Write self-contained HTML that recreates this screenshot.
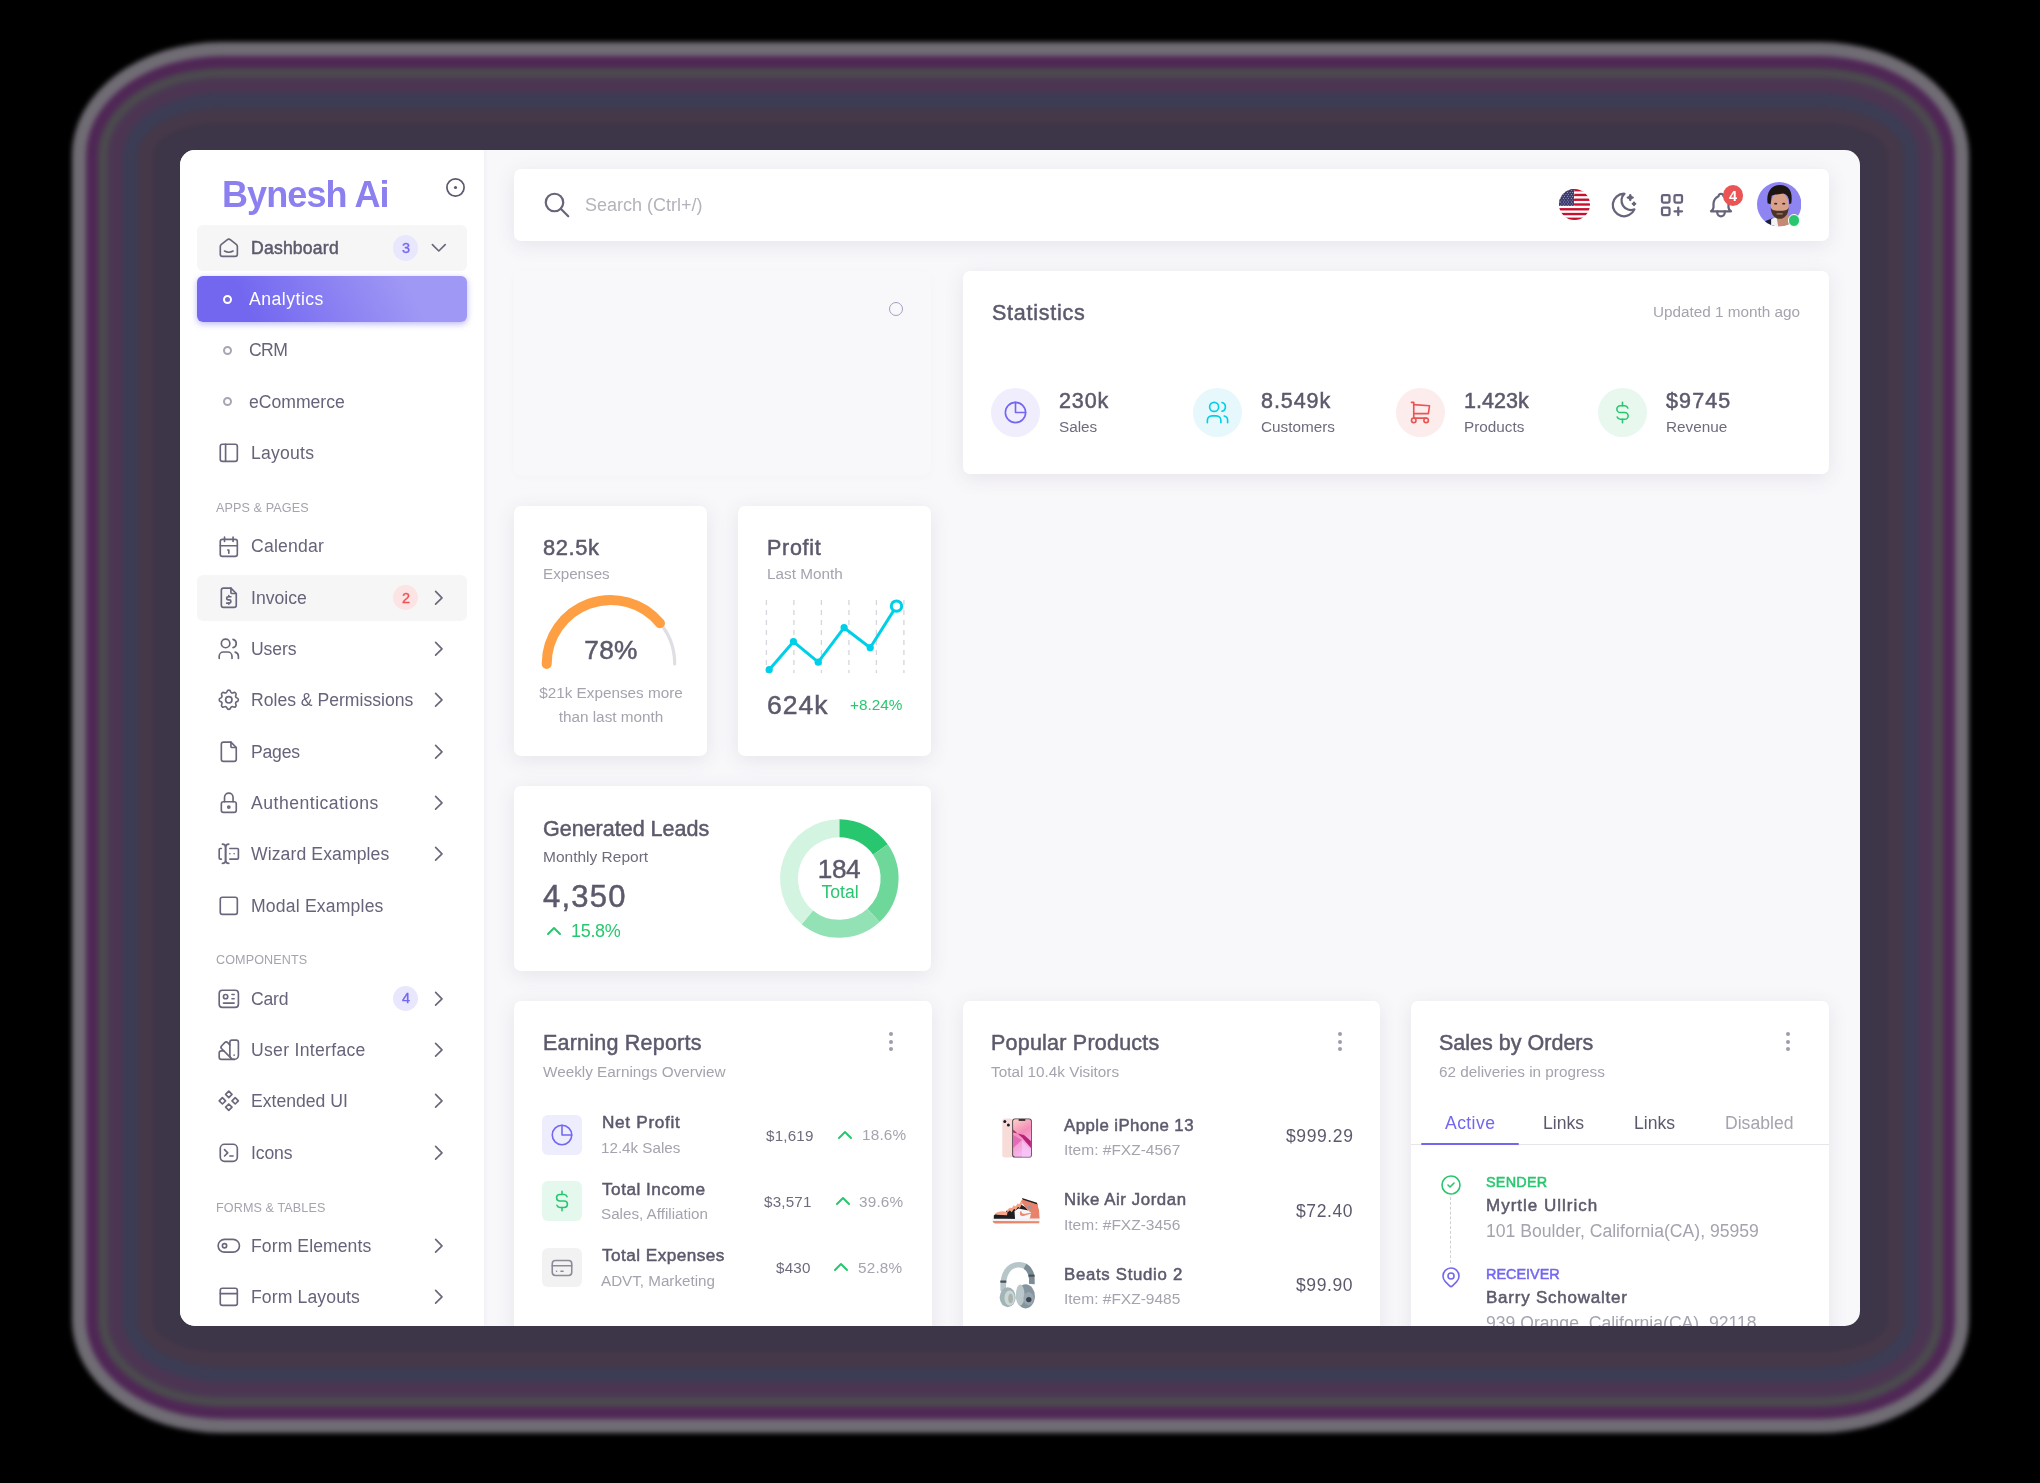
<!DOCTYPE html>
<html><head><meta charset="utf-8">
<style>
*{box-sizing:border-box;margin:0;padding:0}
html,body{width:2040px;height:1483px;overflow:hidden;background:#000;font-family:"Liberation Sans",sans-serif;color:#5d596c}
.abs{position:absolute}
.t{position:absolute;white-space:nowrap;line-height:1;will-change:transform}
#win{position:absolute;left:180px;top:150px;width:1680px;height:1176px;border-radius:15px;overflow:hidden;background:#f8f7fa}
#side{position:absolute;left:0;top:0;width:304px;height:1176px;background:#fff;box-shadow:0 0 5px rgba(75,70,92,.08)}
</style></head>
<body>
<div id="glowwrap" style="position:absolute;left:0;top:0;width:2040px;height:1483px;filter:blur(2.5px)">
<div style="position:absolute;left:72px;top:42px;width:1897px;height:1391px;border-radius:150px / 113px;background:#706c74"></div>
<div style="position:absolute;left:86px;top:56px;width:1869px;height:1363px;border-radius:136px / 99px;background:#4f2755"></div>
<div style="position:absolute;left:98px;top:68px;width:1845px;height:1339px;border-radius:124px / 87px;background:#4b494e"></div>
<div style="position:absolute;left:108px;top:78px;width:1825px;height:1319px;border-radius:114px / 77px;background:#4b3553"></div>
<div style="position:absolute;left:123px;top:93px;width:1795px;height:1289px;border-radius:99px / 62px;background:#3c3c54"></div>
<div style="position:absolute;left:138px;top:108px;width:1765px;height:1259px;border-radius:84px / 47px;background:#453849"></div>
<div style="position:absolute;left:153px;top:123px;width:1735px;height:1229px;border-radius:69px / 32px;background:#3d3548"></div>
</div>
<div id="win">
<div id="side"></div>
<div class="t" style="top:27.13px;font-size:36px;color:#8c80f0;font-weight:700;letter-spacing:-0.9px;left:42.20px;">Bynesh Ai</div>
<svg class="abs" style="left:265.00px;top:27.00px;width:21.00px;height:21.00px;" viewBox="0 0 21 21" fill="none" stroke="#5d596c" stroke-width="1.7" stroke-linecap="round" stroke-linejoin="round"><circle cx="10.5" cy="10.5" r="8.6"/><circle cx="10.5" cy="10.5" r="1.6" fill="#5d596c" stroke="none"/></svg>
<div class="abs" style="left:17.00px;top:75.00px;width:270.40px;height:46.20px;background:#f6f6f7;border-radius:6px;"></div>
<svg class="abs" style="left:35.70px;top:85.20px;width:25.60px;height:25.60px;" viewBox="0 0 24 24" fill="none" stroke="#6a667b" stroke-width="1.55" stroke-linecap="round" stroke-linejoin="round"><path d="M19 8.71l-5.333 -4.148a2.666 2.666 0 0 0 -3.274 0l-5.334 4.148a2.665 2.665 0 0 0 -1.029 2.105v7.2a2 2 0 0 0 2 2h12a2 2 0 0 0 2 -2v-7.2c0 -.823 -.38 -1.6 -1.03 -2.105"/><path d="M16 15c-2.21 1.333 -5.792 1.333 -8 0"/></svg>
<div class="t" style="top:90.10px;font-size:17.6px;color:#5d596c;font-weight:400;letter-spacing:0.2px;-webkit-text-stroke:0.5px #5d596c;left:71.20px;">Dashboard</div>
<div class="abs" style="left:212.80px;top:85.30px;width:25.40px;height:25.40px;background:#e9e7fd;border-radius:50%;"></div>
<div class="t" style="top:90.93px;font-size:14.5px;color:#7367f0;font-weight:400;-webkit-text-stroke:0.35px #7367f0;left:-74.40px;width:600px;text-align:center;">3</div>
<svg class="abs" style="left:245.70px;top:85.20px;width:25.60px;height:25.60px;" viewBox="0 0 24 24" fill="none" stroke="#6a667b" stroke-width="1.55" stroke-linecap="round" stroke-linejoin="round"><path d="M6 9l6 6l6 -6"/></svg>
<div class="abs" style="left:17.00px;top:126.00px;width:270.40px;height:46.00px;background:linear-gradient(62deg,#7367f0 20%,rgba(115,103,240,.68) 78%);border-radius:6px;box-shadow:0 2px 6px 0 rgba(115,103,240,.48);"></div>
<div class="abs" style="left:42.60px;top:144.50px;width:9.20px;height:9.20px;border:2px solid #fff;border-radius:50%;"></div>
<div class="t" style="top:141.10px;font-size:17.6px;color:#fff;font-weight:400;letter-spacing:0.5px;left:69.00px;">Analytics</div>
<div class="abs" style="left:42.60px;top:195.70px;width:9.20px;height:9.20px;border:2px solid #a8a6b2;border-radius:50%;"></div>
<div class="t" style="top:192.20px;font-size:17.6px;color:#67637a;font-weight:400;letter-spacing:-0.6px;left:69.00px;">CRM</div>
<div class="abs" style="left:42.60px;top:247.00px;width:9.20px;height:9.20px;border:2px solid #a8a6b2;border-radius:50%;"></div>
<div class="t" style="top:243.50px;font-size:17.6px;color:#67637a;font-weight:400;left:69.00px;">eCommerce</div>
<svg class="abs" style="left:35.70px;top:290.10px;width:25.60px;height:25.60px;" viewBox="0 0 24 24" fill="none" stroke="#6a667b" stroke-width="1.55" stroke-linecap="round" stroke-linejoin="round"><rect x="4" y="4" width="16" height="16" rx="2"/><path d="M9 4v16"/></svg>
<div class="t" style="top:295.00px;font-size:17.6px;color:#67637a;font-weight:400;letter-spacing:0.22px;left:71.20px;">Layouts</div>
<div class="t" style="top:352.13px;font-size:12.6px;color:#a5a3ae;font-weight:400;letter-spacing:0.1px;left:36.30px;">APPS &amp; PAGES</div>
<svg class="abs" style="left:35.70px;top:383.50px;width:25.60px;height:25.60px;" viewBox="0 0 24 24" fill="none" stroke="#6a667b" stroke-width="1.55" stroke-linecap="round" stroke-linejoin="round"><rect x="4" y="5" width="16" height="16" rx="2"/><path d="M16 3v4M8 3v4M4 11h16M11 15h1M12 15v3"/></svg>
<div class="t" style="top:388.40px;font-size:17.6px;color:#67637a;font-weight:400;letter-spacing:0.2px;left:71.20px;">Calendar</div>
<div class="abs" style="left:17.00px;top:424.60px;width:270.40px;height:46.20px;background:#f6f6f7;border-radius:6px;"></div>
<svg class="abs" style="left:35.70px;top:434.80px;width:25.60px;height:25.60px;" viewBox="0 0 24 24" fill="none" stroke="#6a667b" stroke-width="1.55" stroke-linecap="round" stroke-linejoin="round"><path d="M14 3v4a1 1 0 0 0 1 1h4"/><path d="M17 21h-10a2 2 0 0 1 -2 -2v-14a2 2 0 0 1 2 -2h7l5 5v11a2 2 0 0 1 -2 2z"/><path d="M14 11h-2.5a1.5 1.5 0 0 0 0 3h1a1.5 1.5 0 0 1 0 3h-2.5"/><path d="M12 17v1m0 -8v1"/></svg>
<div class="t" style="top:439.70px;font-size:17.6px;color:#67637a;font-weight:400;letter-spacing:0px;left:71.20px;">Invoice</div>
<div class="abs" style="left:212.80px;top:434.90px;width:25.40px;height:25.40px;background:#fce4e4;border-radius:50%;"></div>
<div class="t" style="top:440.53px;font-size:14.5px;color:#ea5455;font-weight:400;-webkit-text-stroke:0.35px #ea5455;left:-74.40px;width:600px;text-align:center;">2</div>
<svg class="abs" style="left:245.70px;top:434.80px;width:25.60px;height:25.60px;" viewBox="0 0 24 24" fill="none" stroke="#6a667b" stroke-width="1.55" stroke-linecap="round" stroke-linejoin="round"><path d="M9 6l6 6l-6 6"/></svg>
<svg class="abs" style="left:35.70px;top:486.10px;width:25.60px;height:25.60px;" viewBox="0 0 24 24" fill="none" stroke="#6a667b" stroke-width="1.55" stroke-linecap="round" stroke-linejoin="round"><circle cx="9" cy="7" r="4"/><path d="M3 21v-2a4 4 0 0 1 4 -4h4a4 4 0 0 1 4 4v2"/><path d="M16 3.13a4 4 0 0 1 0 7.75"/><path d="M21 21v-2a4 4 0 0 0 -3 -3.85"/></svg>
<div class="t" style="top:491.00px;font-size:17.6px;color:#67637a;font-weight:400;letter-spacing:-0.13px;left:71.20px;">Users</div>
<svg class="abs" style="left:245.70px;top:486.10px;width:25.60px;height:25.60px;" viewBox="0 0 24 24" fill="none" stroke="#6a667b" stroke-width="1.55" stroke-linecap="round" stroke-linejoin="round"><path d="M9 6l6 6l-6 6"/></svg>
<svg class="abs" style="left:35.70px;top:537.40px;width:25.60px;height:25.60px;" viewBox="0 0 24 24" fill="none" stroke="#6a667b" stroke-width="1.55" stroke-linecap="round" stroke-linejoin="round"><path d="M10.325 4.317c.426 -1.756 2.924 -1.756 3.35 0a1.724 1.724 0 0 0 2.573 1.066c1.543 -.94 3.31 .826 2.37 2.37a1.724 1.724 0 0 0 1.065 2.572c1.756 .426 1.756 2.924 0 3.35a1.724 1.724 0 0 0 -1.066 2.573c.94 1.543 -.826 3.31 -2.37 2.37a1.724 1.724 0 0 0 -2.572 1.065c-.426 1.756 -2.924 1.756 -3.35 0a1.724 1.724 0 0 0 -2.573 -1.066c-1.543 .94 -3.31 -.826 -2.37 -2.37a1.724 1.724 0 0 0 -1.065 -2.572c-1.756 -.426 -1.756 -2.924 0 -3.35a1.724 1.724 0 0 0 1.066 -2.573c-.94 -1.543 .826 -3.31 2.37 -2.37c1 .608 2.296 .07 2.572 -1.065z"/><circle cx="12" cy="12" r="3"/></svg>
<div class="t" style="top:542.30px;font-size:17.6px;color:#67637a;font-weight:400;letter-spacing:0px;left:71.20px;">Roles &amp; Permissions</div>
<svg class="abs" style="left:245.70px;top:537.40px;width:25.60px;height:25.60px;" viewBox="0 0 24 24" fill="none" stroke="#6a667b" stroke-width="1.55" stroke-linecap="round" stroke-linejoin="round"><path d="M9 6l6 6l-6 6"/></svg>
<svg class="abs" style="left:35.70px;top:588.70px;width:25.60px;height:25.60px;" viewBox="0 0 24 24" fill="none" stroke="#6a667b" stroke-width="1.55" stroke-linecap="round" stroke-linejoin="round"><path d="M14 3v4a1 1 0 0 0 1 1h4"/><path d="M17 21h-10a2 2 0 0 1 -2 -2v-14a2 2 0 0 1 2 -2h7l5 5v11a2 2 0 0 1 -2 2z"/></svg>
<div class="t" style="top:593.60px;font-size:17.6px;color:#67637a;font-weight:400;letter-spacing:-0.2px;left:71.20px;">Pages</div>
<svg class="abs" style="left:245.70px;top:588.70px;width:25.60px;height:25.60px;" viewBox="0 0 24 24" fill="none" stroke="#6a667b" stroke-width="1.55" stroke-linecap="round" stroke-linejoin="round"><path d="M9 6l6 6l-6 6"/></svg>
<svg class="abs" style="left:35.70px;top:640.00px;width:25.60px;height:25.60px;" viewBox="0 0 24 24" fill="none" stroke="#6a667b" stroke-width="1.55" stroke-linecap="round" stroke-linejoin="round"><rect x="5" y="11" width="14" height="10" rx="2"/><circle cx="12" cy="16" r="1"/><path d="M8 11v-4a4 4 0 0 1 8 0v4"/></svg>
<div class="t" style="top:644.90px;font-size:17.6px;color:#67637a;font-weight:400;letter-spacing:0.5px;left:71.20px;">Authentications</div>
<svg class="abs" style="left:245.70px;top:640.00px;width:25.60px;height:25.60px;" viewBox="0 0 24 24" fill="none" stroke="#6a667b" stroke-width="1.55" stroke-linecap="round" stroke-linejoin="round"><path d="M9 6l6 6l-6 6"/></svg>
<svg class="abs" style="left:35.70px;top:691.30px;width:25.60px;height:25.60px;" viewBox="0 0 24 24" fill="none" stroke="#6a667b" stroke-width="1.55" stroke-linecap="round" stroke-linejoin="round"><path d="M12 3a3 3 0 0 0 -3 3v12a3 3 0 0 0 3 3"/><path d="M6 3a3 3 0 0 1 3 3v12a3 3 0 0 1 -3 3"/><path d="M13 7h7a1 1 0 0 1 1 1v8a1 1 0 0 1 -1 1h-7"/><path d="M5 7h-1a1 1 0 0 0 -1 1v8a1 1 0 0 0 1 1h1"/><path d="M17 12h.01M13 12h.01"/></svg>
<div class="t" style="top:696.20px;font-size:17.6px;color:#67637a;font-weight:400;letter-spacing:0.1px;left:71.20px;">Wizard Examples</div>
<svg class="abs" style="left:245.70px;top:691.30px;width:25.60px;height:25.60px;" viewBox="0 0 24 24" fill="none" stroke="#6a667b" stroke-width="1.55" stroke-linecap="round" stroke-linejoin="round"><path d="M9 6l6 6l-6 6"/></svg>
<svg class="abs" style="left:35.70px;top:742.60px;width:25.60px;height:25.60px;" viewBox="0 0 24 24" fill="none" stroke="#6a667b" stroke-width="1.55" stroke-linecap="round" stroke-linejoin="round"><rect x="4" y="4" width="16" height="16" rx="2"/></svg>
<div class="t" style="top:747.50px;font-size:17.6px;color:#67637a;font-weight:400;letter-spacing:0.18px;left:71.20px;">Modal Examples</div>
<div class="t" style="top:804.33px;font-size:12.6px;color:#a5a3ae;font-weight:400;letter-spacing:0.1px;left:36.30px;">COMPONENTS</div>
<svg class="abs" style="left:35.70px;top:835.70px;width:25.60px;height:25.60px;" viewBox="0 0 24 24" fill="none" stroke="#6a667b" stroke-width="1.55" stroke-linecap="round" stroke-linejoin="round"><rect x="3" y="4" width="18" height="16" rx="3"/><circle cx="9" cy="10" r="2"/><path d="M15 8h2M15 12h2M7 16h10"/></svg>
<div class="t" style="top:840.60px;font-size:17.6px;color:#67637a;font-weight:400;letter-spacing:-0.2px;left:71.20px;">Card</div>
<div class="abs" style="left:212.80px;top:835.80px;width:25.40px;height:25.40px;background:#e9e7fd;border-radius:50%;"></div>
<div class="t" style="top:841.43px;font-size:14.5px;color:#7367f0;font-weight:400;-webkit-text-stroke:0.35px #7367f0;left:-74.40px;width:600px;text-align:center;">4</div>
<svg class="abs" style="left:245.70px;top:835.70px;width:25.60px;height:25.60px;" viewBox="0 0 24 24" fill="none" stroke="#6a667b" stroke-width="1.55" stroke-linecap="round" stroke-linejoin="round"><path d="M9 6l6 6l-6 6"/></svg>
<svg class="abs" style="left:35.70px;top:887.00px;width:25.60px;height:25.60px;" viewBox="0 0 24 24" fill="none" stroke="#6a667b" stroke-width="1.55" stroke-linecap="round" stroke-linejoin="round"><path d="M19 3h-4a2 2 0 0 0 -2 2v12a4 4 0 0 0 8 0v-12a2 2 0 0 0 -2 -2"/><path d="M13 7.35l-2 -2a2 2 0 0 0 -2.828 0l-2.828 2.828a2 2 0 0 0 0 2.828l9 9"/><path d="M7.3 13h-2.3a2 2 0 0 0 -2 2v4a2 2 0 0 0 2 2h12"/><path d="M17 17v.01"/></svg>
<div class="t" style="top:891.90px;font-size:17.6px;color:#67637a;font-weight:400;letter-spacing:0.3px;left:71.20px;">User Interface</div>
<svg class="abs" style="left:245.70px;top:887.00px;width:25.60px;height:25.60px;" viewBox="0 0 24 24" fill="none" stroke="#6a667b" stroke-width="1.55" stroke-linecap="round" stroke-linejoin="round"><path d="M9 6l6 6l-6 6"/></svg>
<svg class="abs" style="left:35.70px;top:938.30px;width:25.60px;height:25.60px;" viewBox="0 0 24 24" fill="none" stroke="#6a667b" stroke-width="1.55" stroke-linecap="round" stroke-linejoin="round"><path d="M3 12l3 3l3 -3l-3 -3z"/><path d="M15 12l3 3l3 -3l-3 -3z"/><path d="M9 6l3 3l3 -3l-3 -3z"/><path d="M9 18l3 3l3 -3l-3 -3z"/></svg>
<div class="t" style="top:943.20px;font-size:17.6px;color:#67637a;font-weight:400;letter-spacing:0px;left:71.20px;">Extended UI</div>
<svg class="abs" style="left:245.70px;top:938.30px;width:25.60px;height:25.60px;" viewBox="0 0 24 24" fill="none" stroke="#6a667b" stroke-width="1.55" stroke-linecap="round" stroke-linejoin="round"><path d="M9 6l6 6l-6 6"/></svg>
<svg class="abs" style="left:35.70px;top:989.60px;width:25.60px;height:25.60px;" viewBox="0 0 24 24" fill="none" stroke="#6a667b" stroke-width="1.55" stroke-linecap="round" stroke-linejoin="round"><path d="M8 9l3 3l-3 3"/><path d="M13 15h3"/><rect x="4" y="4" width="16" height="16" rx="4"/></svg>
<div class="t" style="top:994.50px;font-size:17.6px;color:#67637a;font-weight:400;letter-spacing:-0.13px;left:71.20px;">Icons</div>
<svg class="abs" style="left:245.70px;top:989.60px;width:25.60px;height:25.60px;" viewBox="0 0 24 24" fill="none" stroke="#6a667b" stroke-width="1.55" stroke-linecap="round" stroke-linejoin="round"><path d="M9 6l6 6l-6 6"/></svg>
<div class="t" style="top:1051.73px;font-size:12.6px;color:#a5a3ae;font-weight:400;letter-spacing:0.1px;left:36.30px;">FORMS &amp; TABLES</div>
<svg class="abs" style="left:35.70px;top:1082.90px;width:25.60px;height:25.60px;" viewBox="0 0 24 24" fill="none" stroke="#6a667b" stroke-width="1.55" stroke-linecap="round" stroke-linejoin="round"><circle cx="8" cy="12" r="2"/><rect x="2" y="6" width="20" height="12" rx="6"/></svg>
<div class="t" style="top:1087.80px;font-size:17.6px;color:#67637a;font-weight:400;letter-spacing:0.08px;left:71.20px;">Form Elements</div>
<svg class="abs" style="left:245.70px;top:1082.90px;width:25.60px;height:25.60px;" viewBox="0 0 24 24" fill="none" stroke="#6a667b" stroke-width="1.55" stroke-linecap="round" stroke-linejoin="round"><path d="M9 6l6 6l-6 6"/></svg>
<svg class="abs" style="left:35.70px;top:1134.20px;width:25.60px;height:25.60px;" viewBox="0 0 24 24" fill="none" stroke="#6a667b" stroke-width="1.55" stroke-linecap="round" stroke-linejoin="round"><rect x="4" y="4" width="16" height="16" rx="2"/><path d="M4 9h16"/></svg>
<div class="t" style="top:1139.10px;font-size:17.6px;color:#67637a;font-weight:400;letter-spacing:0.12px;left:71.20px;">Form Layouts</div>
<svg class="abs" style="left:245.70px;top:1134.20px;width:25.60px;height:25.60px;" viewBox="0 0 24 24" fill="none" stroke="#6a667b" stroke-width="1.55" stroke-linecap="round" stroke-linejoin="round"><path d="M9 6l6 6l-6 6"/></svg>
<div class="abs" style="left:334.00px;top:19.00px;width:1314.70px;height:71.70px;background:#fff;border-radius:7px;box-shadow:0 4px 20px rgba(75,70,92,.10);"></div>
<svg class="abs" style="left:362.00px;top:39.80px;width:30.00px;height:30.00px;" viewBox="0 0 24 24" fill="none" stroke="#67637a" stroke-width="1.75" stroke-linecap="round" stroke-linejoin="round"><circle cx="10" cy="10" r="7"/><path d="M21 21l-6 -6"/></svg>
<div class="t" style="top:45.96px;font-size:18px;color:#b4b2bb;font-weight:400;left:404.50px;">Search (Ctrl+/)</div>
<svg class="abs" style="left:1378.7px;top:39.099999999999994px;width:31px;height:31px" viewBox="0 0 31 31">
<defs><clipPath id="fc"><circle cx="15.5" cy="15.5" r="15.5"/></clipPath></defs>
<g clip-path="url(#fc)"><rect width="31" height="31" fill="#fff"/>
<rect x="0" y="0.00" width="31" height="2.38" fill="#c8102e"/><rect x="0" y="4.77" width="31" height="2.38" fill="#c8102e"/><rect x="0" y="9.54" width="31" height="2.38" fill="#c8102e"/><rect x="0" y="14.31" width="31" height="2.38" fill="#c8102e"/><rect x="0" y="19.08" width="31" height="2.38" fill="#c8102e"/><rect x="0" y="23.85" width="31" height="2.38" fill="#c8102e"/><rect x="0" y="28.62" width="31" height="2.38" fill="#c8102e"/>
<rect x="0" y="0" width="15" height="16.69" fill="#3c3b6e"/>
<circle cx="1.60" cy="1.60" r=".45" fill="#fff"/><circle cx="4.30" cy="1.60" r=".45" fill="#fff"/><circle cx="7.00" cy="1.60" r=".45" fill="#fff"/><circle cx="9.70" cy="1.60" r=".45" fill="#fff"/><circle cx="12.40" cy="1.60" r=".45" fill="#fff"/><circle cx="15.10" cy="1.60" r=".45" fill="#fff"/><circle cx="2.95" cy="3.50" r=".45" fill="#fff"/><circle cx="5.65" cy="3.50" r=".45" fill="#fff"/><circle cx="8.35" cy="3.50" r=".45" fill="#fff"/><circle cx="11.05" cy="3.50" r=".45" fill="#fff"/><circle cx="13.75" cy="3.50" r=".45" fill="#fff"/><circle cx="1.60" cy="5.40" r=".45" fill="#fff"/><circle cx="4.30" cy="5.40" r=".45" fill="#fff"/><circle cx="7.00" cy="5.40" r=".45" fill="#fff"/><circle cx="9.70" cy="5.40" r=".45" fill="#fff"/><circle cx="12.40" cy="5.40" r=".45" fill="#fff"/><circle cx="15.10" cy="5.40" r=".45" fill="#fff"/><circle cx="2.95" cy="7.30" r=".45" fill="#fff"/><circle cx="5.65" cy="7.30" r=".45" fill="#fff"/><circle cx="8.35" cy="7.30" r=".45" fill="#fff"/><circle cx="11.05" cy="7.30" r=".45" fill="#fff"/><circle cx="13.75" cy="7.30" r=".45" fill="#fff"/><circle cx="1.60" cy="9.20" r=".45" fill="#fff"/><circle cx="4.30" cy="9.20" r=".45" fill="#fff"/><circle cx="7.00" cy="9.20" r=".45" fill="#fff"/><circle cx="9.70" cy="9.20" r=".45" fill="#fff"/><circle cx="12.40" cy="9.20" r=".45" fill="#fff"/><circle cx="15.10" cy="9.20" r=".45" fill="#fff"/><circle cx="2.95" cy="11.10" r=".45" fill="#fff"/><circle cx="5.65" cy="11.10" r=".45" fill="#fff"/><circle cx="8.35" cy="11.10" r=".45" fill="#fff"/><circle cx="11.05" cy="11.10" r=".45" fill="#fff"/><circle cx="13.75" cy="11.10" r=".45" fill="#fff"/><circle cx="1.60" cy="13.00" r=".45" fill="#fff"/><circle cx="4.30" cy="13.00" r=".45" fill="#fff"/><circle cx="7.00" cy="13.00" r=".45" fill="#fff"/><circle cx="9.70" cy="13.00" r=".45" fill="#fff"/><circle cx="12.40" cy="13.00" r=".45" fill="#fff"/><circle cx="15.10" cy="13.00" r=".45" fill="#fff"/><circle cx="2.95" cy="14.90" r=".45" fill="#fff"/><circle cx="5.65" cy="14.90" r=".45" fill="#fff"/><circle cx="8.35" cy="14.90" r=".45" fill="#fff"/><circle cx="11.05" cy="14.90" r=".45" fill="#fff"/><circle cx="13.75" cy="14.90" r=".45" fill="#fff"/><circle cx="1.60" cy="16.80" r=".45" fill="#fff"/><circle cx="4.30" cy="16.80" r=".45" fill="#fff"/><circle cx="7.00" cy="16.80" r=".45" fill="#fff"/><circle cx="9.70" cy="16.80" r=".45" fill="#fff"/><circle cx="12.40" cy="16.80" r=".45" fill="#fff"/><circle cx="15.10" cy="16.80" r=".45" fill="#fff"/>
</g></svg>
<svg class="abs" style="left:1428.50px;top:39.60px;width:30.00px;height:30.00px;" viewBox="0 0 24 24" fill="none" stroke="#67637a" stroke-width="1.8" stroke-linecap="round" stroke-linejoin="round"><path d="M12 3c.132 0 .263 0 .393 0a7.5 7.5 0 0 0 7.92 12.446a9 9 0 1 1 -8.313 -12.454z"/><path d="M17 4a2 2 0 0 0 2 2a2 2 0 0 0 -2 2a2 2 0 0 0 -2 -2a2 2 0 0 0 2 -2"/><path d="M19 11h2m-1 -1v2"/></svg>
<svg class="abs" style="left:1477.30px;top:39.70px;width:30.00px;height:30.00px;" viewBox="0 0 24 24" fill="none" stroke="#67637a" stroke-width="1.8" stroke-linecap="round" stroke-linejoin="round"><rect x="4" y="4" width="6" height="6" rx="1"/><rect x="14" y="4" width="6" height="6" rx="1"/><rect x="4" y="14" width="6" height="6" rx="1"/><path d="M14 17h6m-3 -3v6"/></svg>
<svg class="abs" style="left:1526.00px;top:39.60px;width:30.00px;height:30.00px;" viewBox="0 0 24 24" fill="none" stroke="#67637a" stroke-width="1.8" stroke-linecap="round" stroke-linejoin="round"><path d="M10 5a2 2 0 1 1 4 0a7 7 0 0 1 4 6v3a4 4 0 0 0 2 3h-16a4 4 0 0 0 2 -3v-3a7 7 0 0 1 4 -6"/><path d="M9 17v1a3 3 0 0 0 6 0v-1"/></svg>
<div class="abs" style="left:1542.60px;top:35.20px;width:20.80px;height:20.80px;background:#ea5455;border-radius:50%;"></div>
<div class="t" style="top:38.63px;font-size:14.5px;color:#fff;font-weight:700;left:1253.20px;width:600px;text-align:center;">4</div>
<svg class="abs" style="left:1576.7px;top:32.19999999999999px;width:44.4px;height:44.4px" viewBox="0 0 44 44">
<defs><clipPath id="av"><circle cx="22" cy="22" r="22"/></clipPath></defs>
<g clip-path="url(#av)"><rect width="44" height="44" fill="#8f85f2"/>
<path d="M0 44L8 39L15 36L18 44z" fill="#1b2236"/>
<path d="M14 37L20 34.5L23 44L14 44z" fill="#f4f4f4"/>
<path d="M19 32L31 32L34 44L21 44z" fill="#c48a74"/>
<ellipse cx="22.5" cy="23" rx="9" ry="12.5" fill="#d9a08a"/>
<path d="M10.5 21C9 10 14 3 23 3C31 3 36 9 34 21L32 22C32 15 30 12.5 26 11.5C22 12.5 17 12 14.5 14L13.5 22z" fill="#1c1512"/>
<path d="M13.5 25C14 33 18 36.5 22.5 36.5C27 36.5 31 33 31.5 25C30 28.5 27 28.5 22.5 28.5C18 28.5 15 28.5 13.5 25z" fill="#4a3428"/>
<ellipse cx="18.5" cy="21.5" rx="1.6" ry=".9" fill="#3a2a24"/><ellipse cx="26.5" cy="21.5" rx="1.6" ry=".9" fill="#3a2a24"/>
<path d="M19.5 31.5h6" stroke="#b77a70" stroke-width="1.2"/>
</g></svg>
<div class="abs" style="left:1607.50px;top:64.40px;width:12.40px;height:12.40px;background:#28c76f;border:1.7px solid #fff;border-radius:50%;"></div>
<div class="abs" style="left:334.00px;top:121.00px;width:417.20px;height:204.00px;background:#f8f7fa;border-radius:7px;box-shadow:0 2px 10px rgba(75,70,92,.025);"></div>
<div class="abs" style="left:708.70px;top:151.50px;width:14.60px;height:14.60px;border:1.3px solid #a49fc0;border-radius:50%;"></div>
<div class="abs" style="left:783.20px;top:121.00px;width:865.50px;height:202.50px;background:#fff;border-radius:7px;box-shadow:0 4px 20px rgba(75,70,92,.10);"></div>
<div class="t" style="top:153.30px;font-size:21.5px;color:#5d596c;font-weight:400;letter-spacing:0.75px;-webkit-text-stroke:0.5px #5d596c;left:811.90px;">Statistics</div>
<div class="t" style="top:153.55px;font-size:15.3px;color:#a5a3ae;font-weight:400;right:59.50px;text-align:right;">Updated 1 month ago</div>
<div class="abs" style="left:810.80px;top:237.60px;width:49.20px;height:49.20px;background:#f0eefd;border-radius:50%;"></div>
<svg class="abs" style="left:821.90px;top:248.70px;width:27.00px;height:27.00px;" viewBox="0 0 24 24" fill="none" stroke="#7367f0" stroke-width="1.45" stroke-linecap="round" stroke-linejoin="round"><path d="M12 3v9h9"/><circle cx="12" cy="12" r="9"/></svg>
<div class="t" style="top:240.60px;font-size:21.5px;color:#5d596c;font-weight:400;letter-spacing:0.9px;-webkit-text-stroke:0.5px #5d596c;left:879.00px;">230k</div>
<div class="t" style="top:269.05px;font-size:15.3px;color:#6f6b7d;font-weight:400;left:878.80px;">Sales</div>
<div class="abs" style="left:1013.25px;top:237.60px;width:49.20px;height:49.20px;background:#e6f8fc;border-radius:50%;"></div>
<svg class="abs" style="left:1024.35px;top:248.70px;width:27.00px;height:27.00px;" viewBox="0 0 24 24" fill="none" stroke="#00cfe8" stroke-width="1.45" stroke-linecap="round" stroke-linejoin="round"><circle cx="9" cy="7" r="4"/><path d="M3 21v-2a4 4 0 0 1 4 -4h4a4 4 0 0 1 4 4v2"/><path d="M16 3.13a4 4 0 0 1 0 7.75"/><path d="M21 21v-2a4 4 0 0 0 -3 -3.85"/></svg>
<div class="t" style="top:240.60px;font-size:21.5px;color:#5d596c;font-weight:400;letter-spacing:0.94px;-webkit-text-stroke:0.5px #5d596c;left:1081.45px;">8.549k</div>
<div class="t" style="top:269.05px;font-size:15.3px;color:#6f6b7d;font-weight:400;left:1081.25px;">Customers</div>
<div class="abs" style="left:1215.70px;top:237.60px;width:49.20px;height:49.20px;background:#fdecec;border-radius:50%;"></div>
<svg class="abs" style="left:1226.80px;top:248.70px;width:27.00px;height:27.00px;" viewBox="0 0 24 24" fill="none" stroke="#ea5455" stroke-width="1.45" stroke-linecap="round" stroke-linejoin="round"><circle cx="6" cy="19" r="2"/><circle cx="17" cy="19" r="2"/><path d="M17 17h-11v-14h-2"/><path d="M6 5l14 1l-1 7h-13"/></svg>
<div class="t" style="top:240.60px;font-size:21.5px;color:#5d596c;font-weight:400;letter-spacing:0.06px;-webkit-text-stroke:0.5px #5d596c;left:1283.90px;">1.423k</div>
<div class="t" style="top:269.05px;font-size:15.3px;color:#6f6b7d;font-weight:400;left:1283.70px;">Products</div>
<div class="abs" style="left:1418.15px;top:237.60px;width:49.20px;height:49.20px;background:#e8f8ef;border-radius:50%;"></div>
<svg class="abs" style="left:1429.25px;top:248.70px;width:27.00px;height:27.00px;" viewBox="0 0 24 24" fill="none" stroke="#28c76f" stroke-width="1.45" stroke-linecap="round" stroke-linejoin="round"><path d="M16.7 8a3 3 0 0 0 -2.7 -2h-4a3 3 0 0 0 0 6h4a3 3 0 0 1 0 6h-4a3 3 0 0 1 -2.7 -2"/><path d="M12 3v3m0 12v3"/></svg>
<div class="t" style="top:240.60px;font-size:21.5px;color:#5d596c;font-weight:400;letter-spacing:1.12px;-webkit-text-stroke:0.5px #5d596c;left:1486.35px;">$9745</div>
<div class="t" style="top:269.05px;font-size:15.3px;color:#6f6b7d;font-weight:400;left:1486.15px;">Revenue</div>
<div class="abs" style="left:334.00px;top:355.80px;width:193.30px;height:250.20px;background:#fff;border-radius:7px;box-shadow:0 4px 20px rgba(75,70,92,.10);"></div>
<div class="t" style="top:387.26px;font-size:21.9px;color:#5d596c;font-weight:400;letter-spacing:0.61px;-webkit-text-stroke:0.5px #5d596c;left:362.70px;">82.5k</div>
<div class="t" style="top:416.13px;font-size:15.2px;color:#a5a3ae;font-weight:400;left:362.70px;">Expenses</div>
<svg class="abs" style="left:0;top:0;width:1680px;height:1176px;overflow:visible" viewBox="180 150 1680 1176">
<path d="M546.7 664 A64 64 0 0 1 674.7 664" fill="none" stroke="#dfdee3" stroke-width="3.2" stroke-linecap="round"/>
<path d="M546.7 664 A64 64 0 0 1 660.01 623.20" fill="none" stroke="#ff9f43" stroke-width="10" stroke-linecap="round"/>
</svg>
<div class="t" style="top:487.34px;font-size:26.3px;color:#5d596c;font-weight:400;letter-spacing:0.3px;-webkit-text-stroke:0.5px #5d596c;left:130.75px;width:600px;text-align:center;">78%</div>
<div class="t" style="top:535.45px;font-size:15.3px;color:#a5a3ae;font-weight:400;left:130.70px;width:600px;text-align:center;">$21k Expenses more</div>
<div class="t" style="top:558.95px;font-size:15.3px;color:#a5a3ae;font-weight:400;left:130.70px;width:600px;text-align:center;">than last month</div>
<div class="abs" style="left:558.40px;top:355.80px;width:192.80px;height:250.20px;background:#fff;border-radius:7px;box-shadow:0 4px 20px rgba(75,70,92,.10);"></div>
<div class="t" style="top:387.60px;font-size:21.5px;color:#5d596c;font-weight:400;letter-spacing:0.7px;-webkit-text-stroke:0.5px #5d596c;left:586.60px;">Profit</div>
<div class="t" style="top:416.05px;font-size:15.3px;color:#a5a3ae;font-weight:400;left:586.60px;">Last Month</div>
<svg class="abs" style="left:0;top:0;width:1680px;height:1176px;overflow:visible" viewBox="180 150 1680 1176">
<path d="M766.4 600V673" stroke="#d6d5dc" stroke-width="1.3" stroke-dasharray="5 5"/><path d="M793.9 600V673" stroke="#d6d5dc" stroke-width="1.3" stroke-dasharray="5 5"/><path d="M821.4 600V673" stroke="#d6d5dc" stroke-width="1.3" stroke-dasharray="5 5"/><path d="M848.9 600V673" stroke="#d6d5dc" stroke-width="1.3" stroke-dasharray="5 5"/><path d="M876.4 600V673" stroke="#d6d5dc" stroke-width="1.3" stroke-dasharray="5 5"/><path d="M903.9 600V673" stroke="#d6d5dc" stroke-width="1.3" stroke-dasharray="5 5"/><polyline points="769.2,669.7 793.4,641.7 818.2,662.2 844.1,627.7 870.2,647.7 896.5,606.1" fill="none" stroke="#00cfe8" stroke-width="3" stroke-linejoin="round"/><circle cx="769.2" cy="669.7" r="3.6" fill="#00cfe8"/><circle cx="793.4" cy="641.7" r="3.6" fill="#00cfe8"/><circle cx="818.2" cy="662.2" r="3.6" fill="#00cfe8"/><circle cx="844.1" cy="627.7" r="3.6" fill="#00cfe8"/><circle cx="870.2" cy="647.7" r="3.6" fill="#00cfe8"/>
<circle cx="896.5" cy="606.1" r="5.2" fill="#fff" stroke="#00cfe8" stroke-width="3"/></svg>
<div class="t" style="top:541.97px;font-size:26.5px;color:#5d596c;font-weight:400;letter-spacing:1.04px;-webkit-text-stroke:0.5px #5d596c;left:586.80px;">624k</div>
<div class="t" style="top:547.35px;font-size:15.3px;color:#28c76f;font-weight:400;left:670.00px;">+8.24%</div>
<div class="abs" style="left:334.00px;top:636.20px;width:417.20px;height:184.40px;background:#fff;border-radius:7px;box-shadow:0 4px 20px rgba(75,70,92,.10);"></div>
<div class="t" style="top:668.70px;font-size:21.5px;color:#5d596c;font-weight:400;letter-spacing:0px;-webkit-text-stroke:0.5px #5d596c;left:362.70px;">Generated Leads</div>
<div class="t" style="top:699.28px;font-size:15.5px;color:#6f6b7d;font-weight:400;left:362.70px;">Monthly Report</div>
<div class="t" style="top:731.46px;font-size:31px;color:#5d596c;font-weight:400;letter-spacing:1.25px;-webkit-text-stroke:0.5px #5d596c;left:362.90px;">4,350</div>
<svg class="abs" style="left:361.80px;top:768.50px;width:24.00px;height:24.00px;" viewBox="0 0 24 24" fill="none" stroke="#28c76f" stroke-width="2" stroke-linecap="round" stroke-linejoin="round"><path d="M6 15l6 -6l6 6"/></svg>
<div class="t" style="top:771.66px;font-size:18px;color:#28c76f;font-weight:400;letter-spacing:-0.3px;left:390.60px;">15.8%</div>
<svg class="abs" style="left:0;top:0;width:1680px;height:1176px;overflow:visible" viewBox="180 150 1680 1176">
<path d="M839.30 828.20 A50.3 50.3 0 0 1 880.40 849.51" fill="none" stroke="#28c76f" stroke-width="17.9"/><path d="M880.40 849.51 A50.3 50.3 0 0 1 873.48 915.41" fill="none" stroke="#6dd89a" stroke-width="17.9"/><path d="M873.48 915.41 A50.3 50.3 0 0 1 807.31 917.31" fill="none" stroke="#93e2b5" stroke-width="17.9"/><path d="M807.31 917.31 A50.3 50.3 0 0 1 839.30 828.20" fill="none" stroke="#d4f4e2" stroke-width="17.9"/></svg>
<div class="t" style="top:706.42px;font-size:26.2px;color:#5d596c;font-weight:400;letter-spacing:-0.4px;-webkit-text-stroke:0.45px #5d596c;left:359.10px;width:600px;text-align:center;">184</div>
<div class="t" style="top:733.90px;font-size:17.6px;color:#28c76f;font-weight:400;left:360.20px;width:600px;text-align:center;">Total</div>
<div class="abs" style="left:333.70px;top:851.00px;width:418.30px;height:399.00px;background:#fff;border-radius:7px;box-shadow:0 4px 20px rgba(75,70,92,.10);"></div>
<div class="t" style="top:883.20px;font-size:21.5px;color:#5d596c;font-weight:400;letter-spacing:0.22px;-webkit-text-stroke:0.5px #5d596c;left:362.80px;">Earning Reports</div>
<div class="t" style="top:914.15px;font-size:15.3px;color:#a5a3ae;font-weight:400;left:362.80px;">Weekly Earnings Overview</div>
<div class="abs" style="left:709.20px;top:882.30px;width:4.20px;height:4.20px;background:#9f9cad;border-radius:50%;"></div>
<div class="abs" style="left:709.20px;top:889.80px;width:4.20px;height:4.20px;background:#9f9cad;border-radius:50%;"></div>
<div class="abs" style="left:709.20px;top:897.30px;width:4.20px;height:4.20px;background:#9f9cad;border-radius:50%;"></div>
<div class="abs" style="left:362.10px;top:965.00px;width:39.80px;height:39.80px;background:#eeedfd;border-radius:6px;"></div>
<svg class="abs" style="left:369.00px;top:971.90px;width:26.00px;height:26.00px;" viewBox="0 0 24 24" fill="none" stroke="#7367f0" stroke-width="1.45" stroke-linecap="round" stroke-linejoin="round"><path d="M12 3v9h9"/><circle cx="12" cy="12" r="9"/></svg>
<div class="t" style="top:964.34px;font-size:17.2px;color:#5d596c;font-weight:400;letter-spacing:0.69px;-webkit-text-stroke:0.5px #5d596c;left:421.50px;">Net Profit</div>
<div class="t" style="top:989.93px;font-size:15.2px;color:#a5a3ae;font-weight:400;left:420.80px;">12.4k Sales</div>
<div class="t" style="top:977.53px;font-size:15.2px;color:#6f6b7d;font-weight:400;letter-spacing:0.2px;right:1046.10px;text-align:right;">$1,619</div>
<svg class="abs" style="left:653.20px;top:972.50px;width:24.00px;height:24.00px;" viewBox="0 0 24 24" fill="none" stroke="#28c76f" stroke-width="2" stroke-linecap="round" stroke-linejoin="round"><path d="M6 15l6 -6l6 6"/></svg>
<div class="t" style="top:977.45px;font-size:15.3px;color:#a5a3ae;font-weight:400;letter-spacing:0.2px;left:681.50px;">18.6%</div>
<div class="abs" style="left:362.10px;top:1031.30px;width:39.80px;height:39.80px;background:#e5f8ed;border-radius:6px;"></div>
<svg class="abs" style="left:369.00px;top:1038.20px;width:26.00px;height:26.00px;" viewBox="0 0 24 24" fill="none" stroke="#28c76f" stroke-width="1.45" stroke-linecap="round" stroke-linejoin="round"><path d="M16.7 8a3 3 0 0 0 -2.7 -2h-4a3 3 0 0 0 0 6h4a3 3 0 0 1 0 6h-4a3 3 0 0 1 -2.7 -2"/><path d="M12 3v3m0 12v3"/></svg>
<div class="t" style="top:1030.64px;font-size:17.2px;color:#5d596c;font-weight:400;letter-spacing:0.5px;-webkit-text-stroke:0.5px #5d596c;left:421.50px;">Total Income</div>
<div class="t" style="top:1056.23px;font-size:15.2px;color:#a5a3ae;font-weight:400;left:420.80px;">Sales, Affiliation</div>
<div class="t" style="top:1043.83px;font-size:15.2px;color:#6f6b7d;font-weight:400;letter-spacing:0.2px;right:1048.40px;text-align:right;">$3,571</div>
<svg class="abs" style="left:650.90px;top:1038.80px;width:24.00px;height:24.00px;" viewBox="0 0 24 24" fill="none" stroke="#28c76f" stroke-width="2" stroke-linecap="round" stroke-linejoin="round"><path d="M6 15l6 -6l6 6"/></svg>
<div class="t" style="top:1043.75px;font-size:15.3px;color:#a5a3ae;font-weight:400;letter-spacing:0.2px;left:679.30px;">39.6%</div>
<div class="abs" style="left:362.10px;top:1097.60px;width:39.80px;height:39.80px;background:#f2f2f3;border-radius:6px;"></div>
<svg class="abs" style="left:369.00px;top:1104.50px;width:26.00px;height:26.00px;" viewBox="0 0 24 24" fill="none" stroke="#8d8a99" stroke-width="1.45" stroke-linecap="round" stroke-linejoin="round"><rect x="3" y="5" width="18" height="14" rx="3"/><path d="M3 10h18M7 15h.01M11 15h2"/></svg>
<div class="t" style="top:1096.94px;font-size:17.2px;color:#5d596c;font-weight:400;letter-spacing:0.45px;-webkit-text-stroke:0.5px #5d596c;left:421.50px;">Total Expenses</div>
<div class="t" style="top:1122.53px;font-size:15.2px;color:#a5a3ae;font-weight:400;left:420.80px;">ADVT, Marketing</div>
<div class="t" style="top:1110.13px;font-size:15.2px;color:#6f6b7d;font-weight:400;letter-spacing:0.2px;right:1049.60px;text-align:right;">$430</div>
<svg class="abs" style="left:649.20px;top:1105.10px;width:24.00px;height:24.00px;" viewBox="0 0 24 24" fill="none" stroke="#28c76f" stroke-width="2" stroke-linecap="round" stroke-linejoin="round"><path d="M6 15l6 -6l6 6"/></svg>
<div class="t" style="top:1110.05px;font-size:15.3px;color:#a5a3ae;font-weight:400;letter-spacing:0.2px;left:678.20px;">52.8%</div>
<div class="abs" style="left:782.60px;top:851.00px;width:417.70px;height:399.00px;background:#fff;border-radius:7px;box-shadow:0 4px 20px rgba(75,70,92,.10);"></div>
<div class="t" style="top:883.20px;font-size:21.5px;color:#5d596c;font-weight:400;letter-spacing:0.22px;-webkit-text-stroke:0.5px #5d596c;left:811.20px;">Popular Products</div>
<div class="t" style="top:914.15px;font-size:15.3px;color:#a5a3ae;font-weight:400;left:811.20px;">Total 10.4k Visitors</div>
<div class="abs" style="left:1157.80px;top:882.30px;width:4.20px;height:4.20px;background:#9f9cad;border-radius:50%;"></div>
<div class="abs" style="left:1157.80px;top:889.80px;width:4.20px;height:4.20px;background:#9f9cad;border-radius:50%;"></div>
<div class="abs" style="left:1157.80px;top:897.30px;width:4.20px;height:4.20px;background:#9f9cad;border-radius:50%;"></div>
<div class="t" style="top:967.98px;font-size:16.8px;color:#5d596c;font-weight:400;letter-spacing:0.45px;-webkit-text-stroke:0.5px #5d596c;left:883.50px;">Apple iPhone 13</div>
<div class="t" style="top:992.48px;font-size:15.5px;color:#a5a3ae;font-weight:400;left:883.50px;">Item: #FXZ-4567</div>
<div class="t" style="top:978.19px;font-size:17.5px;color:#5d596c;font-weight:400;letter-spacing:0.6px;right:506.80px;text-align:right;">$999.29</div>
<div class="t" style="top:1042.48px;font-size:16.8px;color:#5d596c;font-weight:400;letter-spacing:0.59px;-webkit-text-stroke:0.5px #5d596c;left:883.50px;">Nike Air Jordan</div>
<div class="t" style="top:1066.98px;font-size:15.5px;color:#a5a3ae;font-weight:400;left:883.50px;">Item: #FXZ-3456</div>
<div class="t" style="top:1052.69px;font-size:17.5px;color:#5d596c;font-weight:400;letter-spacing:0.6px;right:506.80px;text-align:right;">$72.40</div>
<div class="t" style="top:1116.98px;font-size:16.8px;color:#5d596c;font-weight:400;letter-spacing:0.7px;-webkit-text-stroke:0.5px #5d596c;left:883.50px;">Beats Studio 2</div>
<div class="t" style="top:1141.48px;font-size:15.5px;color:#a5a3ae;font-weight:400;left:883.50px;">Item: #FXZ-9485</div>
<div class="t" style="top:1127.19px;font-size:17.5px;color:#5d596c;font-weight:400;letter-spacing:0.6px;right:506.80px;text-align:right;">$99.90</div>
<svg class="abs" style="left:822px;top:967.5px;width:30px;height:40px" viewBox="0 0 30 40">
<defs><linearGradient id="ipg" x1="0" y1="0" x2="0.3" y2="1"><stop offset="0" stop-color="#fbd2c8"/><stop offset=".45" stop-color="#f48fb8"/><stop offset="1" stop-color="#f7b6f2"/></linearGradient></defs>
<rect x="0.3" y="0.4" width="10.5" height="39" rx="2.5" fill="#f7dcd8"/>
<circle cx="2.8" cy="3.4" r="1.5" fill="#1b1d2d"/><circle cx="6.4" cy="7.1" r="1.5" fill="#1b1d2d"/>
<rect x="10.2" y="0.5" width="19.6" height="39" rx="2.6" fill="#4a3840"/>
<rect x="11.1" y="1.3" width="17.9" height="37.4" rx="2" fill="url(#ipg)"/>
<path d="M11.1 11.5L20 19.5L28.9 30V23L22 17L11.1 14.5z" fill="#b8237a"/>
<path d="M11.1 17L20 22L11.1 30z" fill="#e060b5" opacity=".8"/>
<path d="M20 22L28.9 33V38.7H20z" fill="#f6c7f7" opacity=".7"/>
<rect x="16.5" y="1.3" width="7" height="1.5" rx=".7" fill="#111"/>
</svg>
<svg class="abs" style="left:805px;top:1038px;width:60px;height:45px" viewBox="0 0 60 45">
<path d="M7.5 30.3H54.6V33.5Q54 35 52 35H10Q7.5 35 7.5 33z" fill="#f2f2f5"/>
<path d="M7.8 33L54.5 33.2L54 35.2L10 35.4Q8.2 35 7.8 33.8z" fill="#ec8468"/>
<path d="M40 12.5L52 15.5L54 22L54.6 30.5H44L46 25L40 21z" fill="#e8826a"/>
<path d="M29 22.5L40 19.5L46 22.5L45 30.5L29 30.8z" fill="#f6f6f8"/>
<path d="M21 23L36 16.5L40 19L43.5 22.5L33.5 20.5L29.5 23L30 30.8L21 30z" fill="#1e1e21"/>
<path d="M8.8 27.5Q9.5 26 12 26L22 27L29.8 29.5L29.8 30.8L8.8 30.8z" fill="#1e1e21"/>
<path d="M10 25.8Q12 23.3 18 23.3L22.5 24L22 27.3L12 26.8z" fill="#f5a68c"/>
<path d="M22 23.5L25 21L26.5 22.5L29 19L30.5 20.5L33 17L34.5 18.5L36.5 14.5" stroke="#f3a083" stroke-width="2.2" fill="none"/>
<path d="M37 10L52 14.8L52.5 17L38 12.8z" fill="#1e1e21"/>
<path d="M35.5 13L38 11.8L52.5 16.5L53.2 22.5L45 24L40 19z" fill="#e8826a"/>
<path d="M43 17.5h3.5v3h-3.5z" fill="#9a9a9e"/>
<path d="M35.2 23.5Q33.8 28.5 38.5 28L52.5 23.5L40 25.8Q36.8 26.2 36.2 23z" fill="#ec8a70"/>
</svg>
<svg class="abs" style="left:810px;top:1105px;width:55px;height:60px" viewBox="0 0 55 60">
<path d="M13.3 36C12 18 19 9.8 29 9.8C38 9.8 42.5 17 41.8 29" stroke="#b7c6c9" stroke-width="5.6" fill="none"/>
<path d="M35 11.2C40 14 42.5 20 41.8 29" stroke="#7b8c96" stroke-width="5.6" fill="none"/>
<path d="M10.3 25.5h6v2.2h-6zM38.6 19.5h6v2.2h-6z" fill="#4b5258"/>
<ellipse cx="17.7" cy="42.3" rx="8" ry="10" fill="#a2b4b8"/>
<ellipse cx="19.6" cy="43" rx="5.2" ry="7.6" fill="#cbd6d7"/>
<ellipse cx="20.6" cy="43.5" rx="2.3" ry="4.8" fill="#aab4ac"/>
<ellipse cx="35.6" cy="41.3" rx="9.3" ry="12.1" fill="#8595a0"/>
<ellipse cx="30.2" cy="40" rx="4.3" ry="10.5" fill="#b9c6ca"/>
<ellipse cx="38.6" cy="43.6" rx="5.2" ry="6.6" fill="#97a6af"/>
<circle cx="38.8" cy="44.6" r="2.7" fill="#3b4450"/>
</svg>
<div class="abs" style="left:1231.00px;top:851.00px;width:417.90px;height:399.00px;background:#fff;border-radius:7px;box-shadow:0 4px 20px rgba(75,70,92,.10);"></div>
<div class="t" style="top:883.20px;font-size:21.5px;color:#5d596c;font-weight:400;letter-spacing:0.01px;-webkit-text-stroke:0.5px #5d596c;left:1259.40px;">Sales by Orders</div>
<div class="t" style="top:914.15px;font-size:15.3px;color:#a5a3ae;font-weight:400;left:1259.40px;">62 deliveries in progress</div>
<div class="abs" style="left:1605.90px;top:882.30px;width:4.20px;height:4.20px;background:#9f9cad;border-radius:50%;"></div>
<div class="abs" style="left:1605.90px;top:889.80px;width:4.20px;height:4.20px;background:#9f9cad;border-radius:50%;"></div>
<div class="abs" style="left:1605.90px;top:897.30px;width:4.20px;height:4.20px;background:#9f9cad;border-radius:50%;"></div>
<div class="t" style="top:964.80px;font-size:17.6px;color:#7367f0;font-weight:400;letter-spacing:0.4px;left:1264.70px;">Active</div>
<div class="t" style="top:964.80px;font-size:17.6px;color:#5d596c;font-weight:400;left:1362.60px;">Links</div>
<div class="t" style="top:964.80px;font-size:17.6px;color:#5d596c;font-weight:400;left:1453.50px;">Links</div>
<div class="t" style="top:964.80px;font-size:17.6px;color:#a5a3ae;font-weight:400;left:1544.50px;">Disabled</div>
<div class="abs" style="left:1231.00px;top:993.60px;width:417.90px;height:1.80px;background:#e6e5e9;"></div>
<div class="abs" style="left:1240.60px;top:992.60px;width:98.00px;height:2.90px;background:#7367f0;border-radius:1px;"></div>
<svg class="abs" style="left:1258.50px;top:1023.00px;width:24.00px;height:24.00px;" viewBox="0 0 24 24" fill="none" stroke="#28c76f" stroke-width="1.6" stroke-linecap="round" stroke-linejoin="round"><circle cx="12" cy="12" r="9"/><path d="M9 12l2 2l4 -4"/></svg>
<div class="abs" style="left:1269.9px;top:1047px;width:0;height:66px;border-left:1.3px dashed #d0cfd6"></div>
<svg class="abs" style="left:1258.50px;top:1114.70px;width:24.00px;height:24.00px;" viewBox="0 0 24 24" fill="none" stroke="#7367f0" stroke-width="1.6" stroke-linecap="round" stroke-linejoin="round"><circle cx="12" cy="11" r="3"/><path d="M17.657 16.657l-4.243 4.243a2 2 0 0 1 -2.827 0l-4.244 -4.243a8 8 0 1 1 11.314 0z"/></svg>
<div class="t" style="top:1025.01px;font-size:14.4px;color:#28c76f;font-weight:400;letter-spacing:0.23px;-webkit-text-stroke:0.5px #28c76f;left:1306.00px;">SENDER</div>
<div class="t" style="top:1046.51px;font-size:17px;color:#5d596c;font-weight:400;letter-spacing:1.0px;-webkit-text-stroke:0.5px #5d596c;left:1306.00px;">Myrtle Ullrich</div>
<div class="t" style="top:1072.80px;font-size:17.6px;color:#a5a3ae;font-weight:400;left:1306.00px;">101 Boulder, California(CA), 95959</div>
<div class="t" style="top:1117.21px;font-size:14.4px;color:#7367f0;font-weight:400;letter-spacing:0.02px;-webkit-text-stroke:0.5px #7367f0;left:1306.00px;">RECEIVER</div>
<div class="t" style="top:1138.61px;font-size:17px;color:#5d596c;font-weight:400;letter-spacing:0.77px;-webkit-text-stroke:0.5px #5d596c;left:1306.00px;">Barry Schowalter</div>
<div class="t" style="top:1164.90px;font-size:17.6px;color:#a5a3ae;font-weight:400;left:1306.00px;">939 Orange, California(CA), 92118</div>
</div>
</body></html>
